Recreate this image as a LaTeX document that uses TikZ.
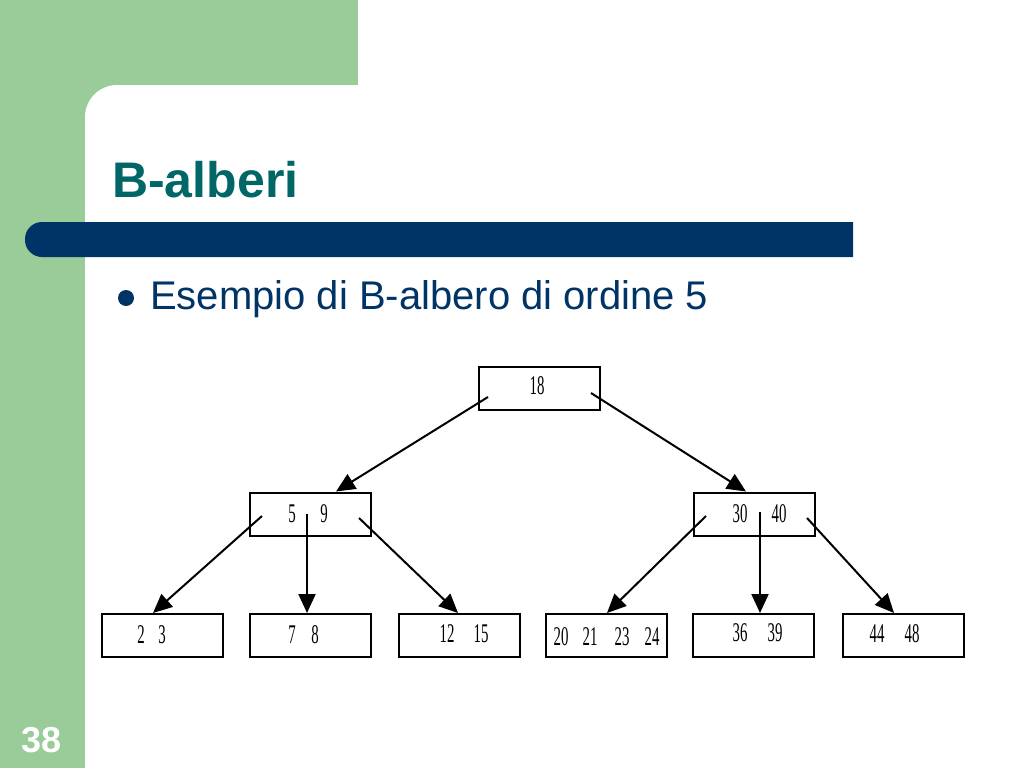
\documentclass[tikz,border=0pt]{standalone}
\usepackage{fontspec}
\setmainfont{Liberation Sans}
\newfontfamily\numfont{Liberation Serif}
\usetikzlibrary{arrows.meta}
\definecolor{slidegreen}{RGB}{153,204,153}
\definecolor{titleteal}{RGB}{0,102,102}
\definecolor{navy}{RGB}{0,51,102}
\newcommand{\nlbl}[1]{\scalebox{0.55}[1]{\fontsize{27}{27}\selectfont\numfont #1}}
\tikzset{
  keybox/.style={draw=black, line width=2pt, minimum width=121pt, minimum height=43pt, inner sep=0pt},
  num/.style={inner sep=0pt, anchor=center},
  link/.style={line width=2pt, -{Triangle[length=19pt,width=17pt]}},
}
\begin{document}
\begin{tikzpicture}[x=1pt,y=-1pt]
\useasboundingbox (0,0) rectangle (1024,768);
\fill[white] (0,0) rectangle (1024,768);
% green frame
\fill[slidegreen] (0,0) rectangle (358,130);
\fill[slidegreen] (0,0) rectangle (85,768);
\fill[white] (85,768) [rounded corners=32pt] -- (85,85) [sharp corners] -- (1024,85) -- (1024,768) -- cycle;
% title
\node[anchor=base west, inner sep=0pt, text=titleteal, font=\fontsize{50}{60}\selectfont\bfseries] (title) at (112,197) {B-alberi};
% bar
\fill[navy] (853,222) [rounded corners=17pt] -- (25,222) -- (25,257) [sharp corners] -- (853,257) -- cycle;
% bullet
\fill[navy] (126,298) circle (8pt);
\node[anchor=base west, inner sep=0pt, text=navy, font=\fontsize{40}{48}\selectfont] (sub) at (150,309) {Esempio di B-albero di ordine 5};
% page number
\node[inner sep=0pt, text=white, font=\fontsize{36}{40}\selectfont\bfseries] (page) at (42,740) {38};

% boxes
\node[keybox] (root) at (539,388) {};
\node[keybox] (ml) at (310,514) {};
\node[keybox] (mr) at (754.5,514) {};
\node[keybox] (l1) at (162,635.5) {};
\node[keybox] (l2) at (310,635.5) {};
\node[keybox] (l3) at (459,635.5) {};
\node[keybox] (l4) at (606.5,635.5) {};
\node[keybox] (l5) at (753.5,635.5) {};
\node[keybox] (l6) at (903.5,635.5) {};

% labels
\node[num] (t18) at (537,386) {\nlbl{18}};
\node[num] (t5) at (292,514) {\nlbl{5}};
\node[num] (t9) at (324,514) {\nlbl{9}};
\node[num] (t30) at (740,514) {\nlbl{30}};
\node[num] (t40) at (779,514) {\nlbl{40}};
\node[num] (t2) at (141,635) {\nlbl{2}};
\node[num] (t3) at (162,635) {\nlbl{3}};
\node[num] (t7) at (292,635) {\nlbl{7}};
\node[num] (t8) at (315,635) {\nlbl{8}};
\node[num] (t12) at (447,634) {\nlbl{12}};
\node[num] (t15) at (481,634) {\nlbl{15}};
\node[num] (t20) at (561,637) {\nlbl{20}};
\node[num] (t21) at (590,637) {\nlbl{21}};
\node[num] (t23) at (622,637) {\nlbl{23}};
\node[num] (t24) at (652,637) {\nlbl{24}};
\node[num] (t36) at (740,633) {\nlbl{36}};
\node[num] (t39) at (775,633) {\nlbl{39}};
\node[num] (t44) at (877,634) {\nlbl{44}};
\node[num] (t48) at (912,634) {\nlbl{48}};

% link start points
\coordinate (r1) at (488,397);
\coordinate (r2) at (591,393);
\coordinate (a1) at (262,516);
\coordinate (a2) at (307,514);
\coordinate (a3) at (359,518);
\coordinate (b1) at (706,516);
\coordinate (b2) at (760,512);
\coordinate (b3) at (807,518);

\draw[link] (r1) -- (ml.north -| 336,0);
\draw[link] (r2) -- (mr.north -| 746,0);
\draw[link] (a1) -- (l1.north -| 153,0);
\draw[link] (a2) -- (l2.north -| 307,0);
\draw[link] (a3) -- (l3.north -| 458,0);
\draw[link] (b1) -- (l4.north -| 607,0);
\draw[link] (b2) -- (l5.north -| 760,0);
\draw[link] (b3) -- (l6.north -| 894,0);
\end{tikzpicture}
\end{document}
